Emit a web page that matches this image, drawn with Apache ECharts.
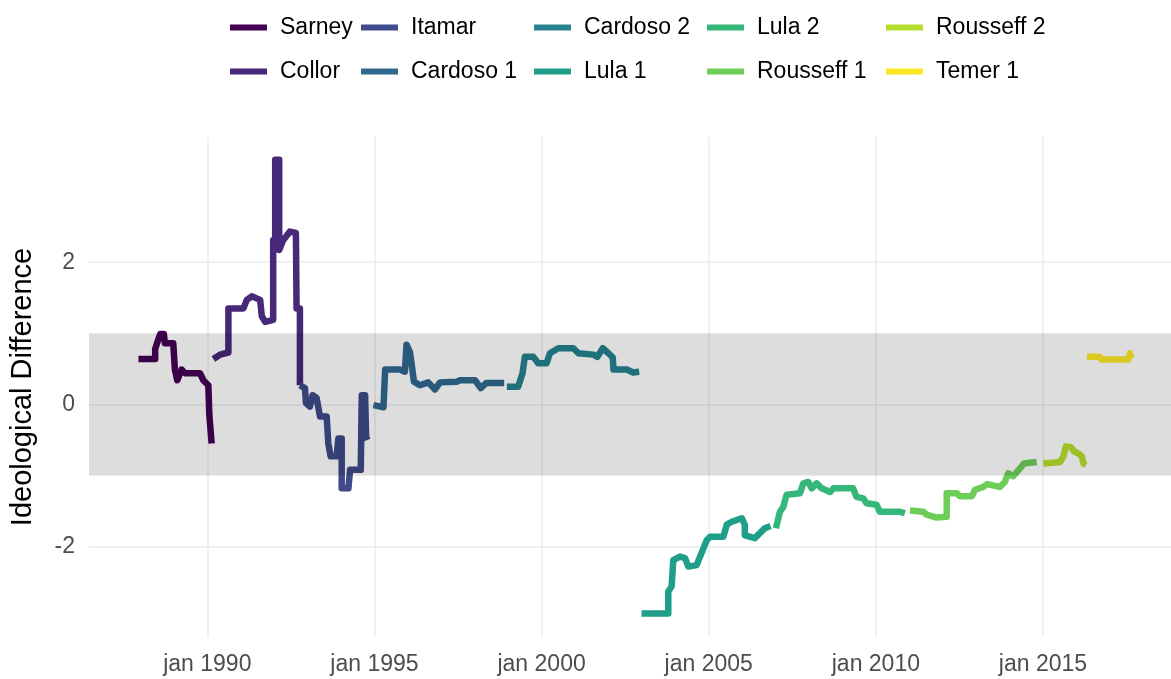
<!DOCTYPE html>
<html>
<head>
    <meta http-equiv="Content-Type" content="text/html; charset=utf-8">
    <title>Ideological Difference</title>
    <style>
        html, body { margin: 0; padding: 0; background: #fff; }
        #chart_main { width: 1171px; height: 679px; }
    </style>
</head>
<body>
    <div id="chart_main"></div>
    <script src="https://cdn.jsdelivr.net/npm/echarts@6/dist/echarts.min.js"></script>
    <script>
        // presidencies (legend order) and viridis colours
        var names = ['Sarney', 'Collor', 'Itamar', 'Cardoso 1', 'Cardoso 2', 'Lula 1', 'Lula 2', 'Rousseff 1', 'Rousseff 2', 'Temer 1'];
        var colors = ['#440154', '#482878', '#3E4A89', '#31688E', '#26828E', '#1F9E89', '#35B779', '#6DCD59', '#B4DE2C', '#FDE725'];

        // [decimal year, ideological difference]
        var sarney = [[1987.94, 0.64], [1988.44, 0.64], [1988.44, 0.78], [1988.53, 0.91], [1988.59, 0.99], [1988.70, 0.99], [1988.73, 0.86], [1988.98, 0.86], [1989.03, 0.49], [1989.10, 0.34], [1989.23, 0.49], [1989.33, 0.44], [1989.78, 0.44], [1989.88, 0.34], [1990.03, 0.27], [1990.06, -0.15], [1990.13, -0.55]];
        var collor = [[1990.18, 0.64], [1990.38, 0.70], [1990.63, 0.73], [1990.63, 1.35], [1991.08, 1.35], [1991.18, 1.47], [1991.33, 1.52], [1991.58, 1.47], [1991.63, 1.24], [1991.73, 1.16], [1991.97, 1.19], [1991.97, 2.31], [1992.03, 2.31], [1992.03, 3.44], [1992.15, 3.44], [1992.15, 2.17], [1992.27, 2.31], [1992.47, 2.43], [1992.65, 2.41], [1992.67, 1.35], [1992.77, 1.35], [1992.77, 0.27]];
        var itamar = [[1992.77, 0.27], [1992.92, 0.23], [1992.95, 0.02], [1993.07, -0.03], [1993.15, 0.13], [1993.27, 0.09], [1993.37, -0.17], [1993.57, -0.17], [1993.62, -0.55], [1993.69, -0.73], [1993.87, -0.73], [1993.92, -0.48], [1994.02, -0.48], [1994.02, -1.18], [1994.22, -1.18], [1994.27, -0.92], [1994.59, -0.92], [1994.62, 0.13], [1994.72, 0.13], [1994.75, -0.45], [1994.79, -0.50]];
        var cardoso1 = [[1994.97, -0.01], [1995.27, -0.04], [1995.32, 0.49], [1995.76, 0.49], [1995.91, 0.46], [1995.96, 0.84], [1996.06, 0.74], [1996.11, 0.58], [1996.18, 0.32], [1996.36, 0.27], [1996.61, 0.31], [1996.81, 0.21], [1996.96, 0.31], [1997.46, 0.32], [1997.56, 0.34], [1998.01, 0.34], [1998.18, 0.23], [1998.34, 0.30], [1998.88, 0.30]];
        var cardoso2 = [[1998.96, 0.25], [1999.30, 0.25], [1999.43, 0.44], [1999.50, 0.67], [1999.75, 0.67], [1999.90, 0.58], [2000.15, 0.58], [2000.25, 0.72], [2000.50, 0.79], [2000.95, 0.79], [2001.10, 0.72], [2001.55, 0.70], [2001.67, 0.67], [2001.83, 0.79], [2002.00, 0.72], [2002.13, 0.66], [2002.15, 0.49], [2002.55, 0.49], [2002.74, 0.45], [2002.92, 0.46]];
        var lula1 = [[2002.99, -2.94], [2003.79, -2.94], [2003.79, -2.63], [2003.89, -2.56], [2003.94, -2.19], [2004.14, -2.14], [2004.29, -2.16], [2004.39, -2.28], [2004.64, -2.26], [2004.74, -2.14], [2004.82, -2.05], [2004.94, -1.91], [2005.04, -1.86], [2005.44, -1.86], [2005.54, -1.69], [2005.69, -1.65], [2005.99, -1.60], [2006.08, -1.69], [2006.08, -1.84], [2006.38, -1.88], [2006.53, -1.81], [2006.68, -1.74], [2006.85, -1.71]];
        var lula2 = [[2007.01, -1.74], [2007.13, -1.51], [2007.23, -1.44], [2007.33, -1.27], [2007.73, -1.25], [2007.83, -1.11], [2007.98, -1.09], [2008.08, -1.18], [2008.23, -1.11], [2008.38, -1.18], [2008.63, -1.23], [2008.73, -1.18], [2009.32, -1.18], [2009.42, -1.30], [2009.62, -1.32], [2009.72, -1.39], [2010.02, -1.41], [2010.12, -1.51], [2010.72, -1.51], [2010.87, -1.53]];
        var rousseff1 = [[2011.02, -1.49], [2011.42, -1.51], [2011.52, -1.55], [2011.82, -1.59], [2012.12, -1.58], [2012.12, -1.25], [2012.42, -1.25], [2012.52, -1.29], [2012.87, -1.29], [2012.97, -1.20], [2013.21, -1.16], [2013.33, -1.12], [2013.71, -1.16], [2013.86, -1.09], [2013.96, -0.97], [2014.11, -1.01], [2014.31, -0.90], [2014.43, -0.83], [2014.81, -0.81]];
        var rousseff2 = [[2015.01, -0.83], [2015.51, -0.81], [2015.61, -0.73], [2015.69, -0.59], [2015.83, -0.60], [2015.93, -0.66], [2016.09, -0.70], [2016.16, -0.73], [2016.21, -0.83], [2016.29, -0.85]];
        var temer1 = [[2016.32, 0.67], [2016.70, 0.67], [2016.75, 0.63], [2017.55, 0.63], [2017.60, 0.72], [2017.65, 0.65]];
        var seriesData = [sarney, collor, itamar, cardoso1, cardoso2, lula1, lula2, rousseff1, rousseff2, temer1];

        var xTicks = [1990, 1995, 2000, 2005, 2010, 2015];
        var yTicks = [-2, 0, 2];

        var myChart = echarts.init(document.getElementById('chart_main'));

        var series = [];
        for (var i = 0; i < names.length; i++) {
            series.push({
                name: names[i],
                type: 'line',
                data: seriesData[i],
                color: colors[i],
                showSymbol: false,
                z: 2,
                lineStyle: { width: 6.5, color: colors[i], cap: 'butt', join: 'round' }
            });
        }
        // grey band drawn over the lines (translucent)
        series.push({
            name: 'band',
            type: 'line',
            data: [],
            z: 5,
            silent: true,
            markArea: {
                silent: true,
                z: 10,
                itemStyle: { color: 'rgba(0,0,0,0.135)' },
                data: [[{ yAxis: -1 }, { yAxis: 1 }]]
            }
        });

        // one legend per column, 2 rows each
        var legendLeft = [230, 361, 534, 707, 886];
        var legends = [];
        for (var c = 0; c < 5; c++) {
            legends.push({
                orient: 'vertical',
                left: legendLeft[c],
                top: 16,
                padding: 0,
                itemGap: 21,
                itemWidth: 37,
                itemHeight: 6,
                icon: 'rect',
                data: [names[c * 2], names[c * 2 + 1]],
                textStyle: { fontSize: 23, color: '#000', fontFamily: 'Liberation Sans', padding: [0, 0, 0, 8] }
            });
        }

        var option = {
            animation: false,
            backgroundColor: '#fff',
            textStyle: { fontFamily: 'Liberation Sans' },
            legend: legends,
            grid: { left: 89, right: 0, top: 137, bottom: 42, containLabel: false },
            xAxis: {
                type: 'value',
                min: 1986.46,
                max: 2018.83,
                axisLine: { show: false },
                axisTick: { show: false, customValues: xTicks },
                axisLabel: {
                    customValues: xTicks,
                    margin: 16,
                    fontSize: 23,
                    color: '#4D4D4D',
                    formatter: function (v) { return 'jan ' + v; }
                },
                splitLine: { show: true, lineStyle: { color: '#EBEBEB', width: 1.5 } }
            },
            yAxis: {
                type: 'value',
                min: -3.27,
                max: 3.76,
                name: 'Ideological Difference',
                nameLocation: 'middle',
                nameGap: 52,
                nameTextStyle: { fontSize: 29, color: '#000' },
                axisLine: { show: false },
                axisTick: { show: false, customValues: yTicks },
                axisLabel: {
                    customValues: yTicks,
                    margin: 14,
                    fontSize: 23,
                    color: '#4D4D4D'
                },
                splitLine: { show: true, lineStyle: { color: '#EBEBEB', width: 1.5 } }
            },
            series: series
        };

        myChart.setOption(option);
    </script>
</body>
</html>
